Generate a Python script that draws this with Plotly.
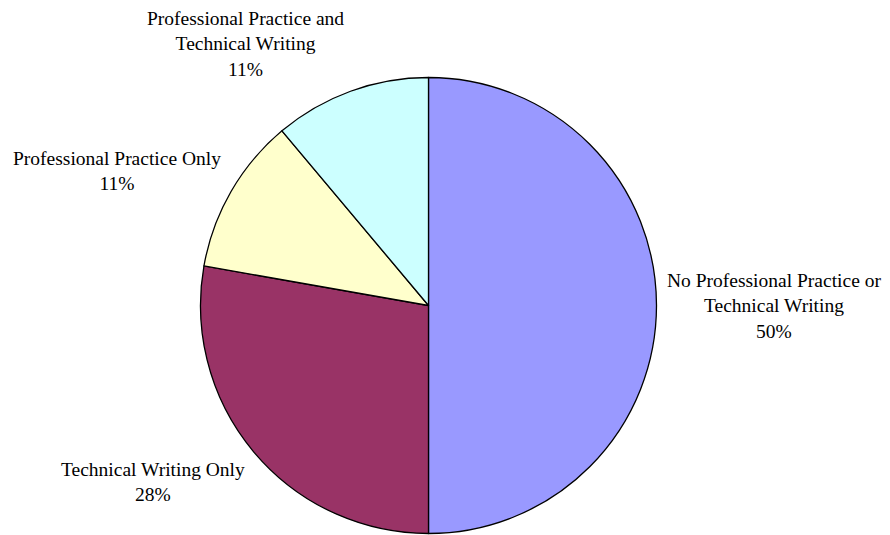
import plotly.graph_objects as go

categories = [
    "No Professional Practice or<br>Technical Writing",
    "Technical Writing Only",
    "Professional Practice Only",
    "Professional Practice and<br>Technical Writing",
]
values = [9, 5, 2, 2]
colors = ["#9999FF", "#993366", "#FFFFCC", "#CCFFFF"]

# page body has an 8px margin; work in window pixels and convert
OFF = 8
W, H = 890 - OFF, 535 - OFF

# label anchor positions in window pixels (center x, center y)
label_pos = [(774, 306), (153, 482), (117, 171), (245, 44)]

cx, cy, r = 428.5 - OFF, 305.5 - OFF, 228

fig = go.Figure(go.Pie(
    labels=categories,
    values=values,
    marker=dict(colors=colors, line=dict(color="black", width=1.3)),
    sort=False,
    direction="clockwise",
    rotation=0,
    textinfo="none",
    hoverinfo="label+percent",
    showlegend=False,
    domain=dict(x=[(cx - r) / W, (cx + r) / W], y=[1 - (cy + r) / H, 1 - (cy - r) / H]),
))

total = sum(values)
for lab, v, (px, py) in zip(categories, values, label_pos):
    pct = round(100 * v / total)
    fig.add_annotation(
        x=(px - OFF) / W, y=1 - (py - OFF) / H, xref="paper", yref="paper",
        text=f"{lab}<br>{pct}%", showarrow=False, align="center",
        xanchor="center", yanchor="middle",
        font=dict(family="Liberation Serif, Times New Roman, serif", size=19.5, color="black"),
    )

fig.update_layout(
    width=W, height=H,
    margin=dict(l=0, r=0, t=0, b=0),
    paper_bgcolor="white", plot_bgcolor="white",
)

fig.write_html("out.html")
